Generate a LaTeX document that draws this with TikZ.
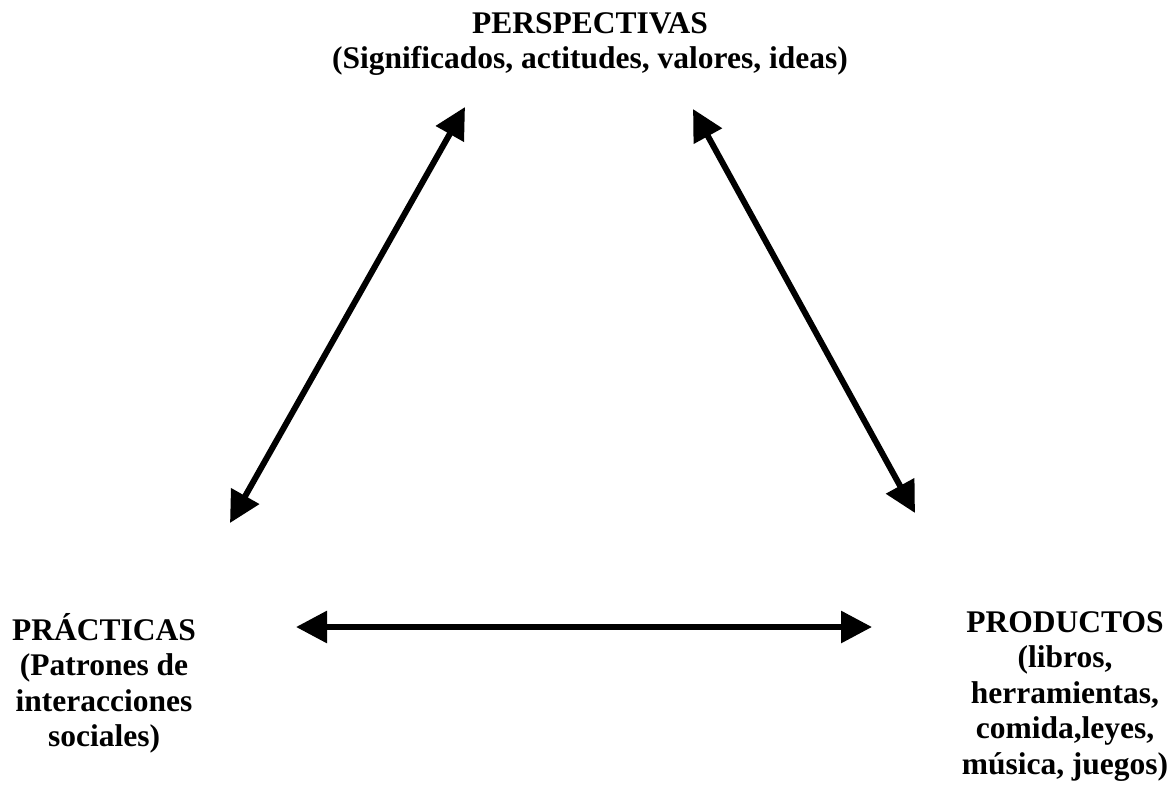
\documentclass[tikz,border=0pt]{standalone}
\usepackage{fontspec}
\setmainfont{Liberation Serif}
\usetikzlibrary{arrows.meta}
\begin{document}
\begin{tikzpicture}[x=1pt,y=-1pt,
  lbl/.style={align=center,inner sep=0pt,anchor=base,font=\bfseries\fontsize{31.5}{35.5}\selectfont},
  link/.style={line width=6pt,{Triangle[length=31pt,width=31pt]}-{Triangle[length=31pt,width=31pt]}}]
\useasboundingbox[fill=white] (0,0) rectangle (1174,795);
% base anchor of a multi-line node is the baseline of its last line
\node[lbl] (persp) at (590,68.5) {PERSPECTIVAS\\(Significados, actitudes, valores, ideas)};
\node[lbl] (pract) at (104,746.5) {PRÁCTICAS\\(Patrones de\\interacciones\\sociales)};
\node[lbl] (prod) at (1065,774) {PRODUCTOS\\(libros,\\herramientas,\\comida,leyes,\\música, juegos)};
\coordinate (tl) at (465,107);
\coordinate (bl) at (230,523);
\coordinate (tr) at (693,109);
\coordinate (br) at (915,513);
\coordinate (hl) at (296,627);
\coordinate (hr) at (872,627);
\draw[link] (tl) -- (bl);
\draw[link] (tr) -- (br);
\draw[link] (hl) -- (hr);
\end{tikzpicture}
\end{document}
